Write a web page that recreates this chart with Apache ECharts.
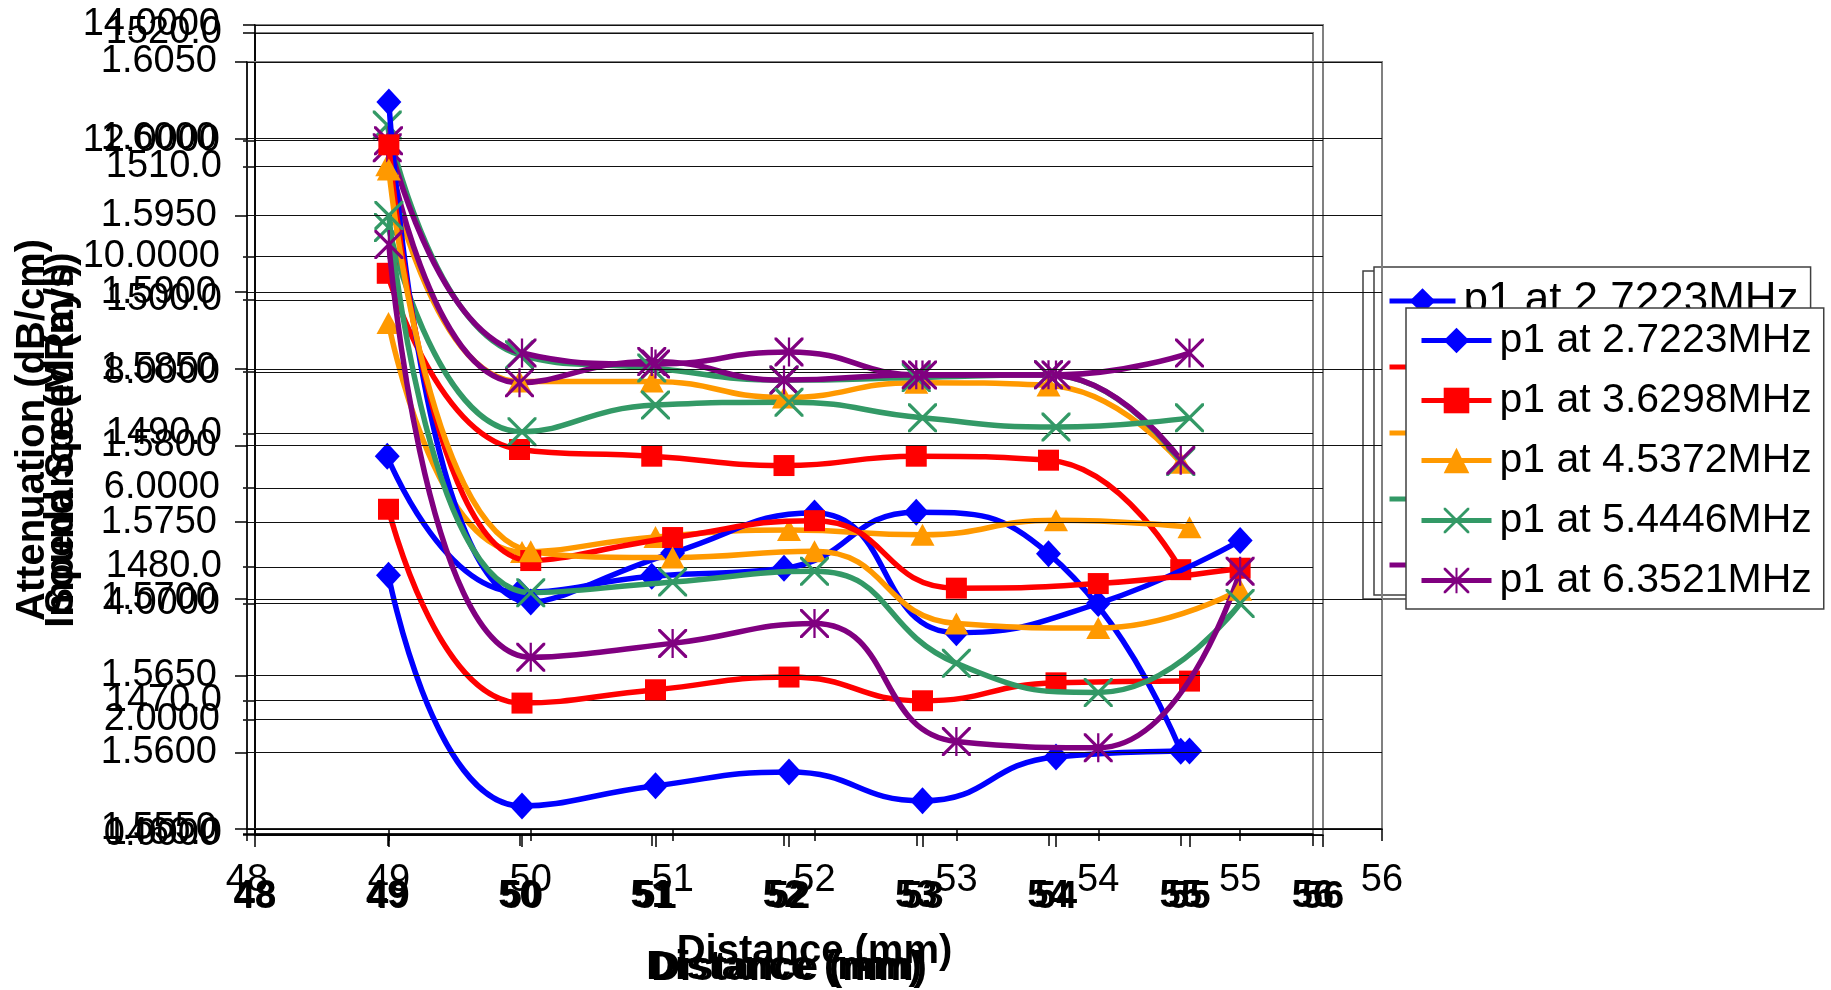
<!DOCTYPE html>
<html><head><meta charset="utf-8">
<script src="https://cdn.jsdelivr.net/npm/echarts@6/dist/echarts.min.js"></script>
<style>html,body{margin:0;padding:0;background:#fff}#c{width:1831px;height:990px}</style>
</head><body><div id="c"></div>
<script>
// ---------------- data ----------------
const distances = [49, 50, 51, 52, 53, 54, 55];
const seriesNames = ['p1 at 2.7223MHz', 'p1 at 3.6298MHz', 'p1 at 4.5372MHz', 'p1 at 5.4446MHz', 'p1 at 6.3521MHz'];
// Attenuation (dB/cm)
const att_2_7223 = [4.49, 0.50, 0.85, 1.09, 0.59, 1.35, 1.45];
const att_3_6298 = [5.63, 2.28, 2.51, 2.73, 2.32, 2.63, 2.66];
const att_4_5372 = [8.85, 4.89, 5.15, 5.27, 5.19, 5.44, 5.32];
const att_5_4446 = [10.5, 6.97, 7.43, 7.48, 7.21, 7.05, 7.21];
const att_6_3521 = [12.0, 8.33, 8.14, 8.35, 7.95, 7.95, 8.33];
// Sound speed (m/s)
const spd_2_7223 = [1488.3, 1478.1, 1479.3, 1479.9, 1484.1, 1481.0, 1466.2];
const spd_3_6298 = [1502.0, 1488.8, 1488.3, 1487.6, 1488.3, 1488.0, 1479.8];
const spd_4_5372 = [1510.1, 1493.9, 1493.9, 1492.7, 1493.8, 1493.6, 1487.8];
const spd_5_4446 = [1513.1, 1495.9, 1494.9, 1494.0, 1494.2, 1494.4, 1487.9];
const spd_6_3521 = [1511.4, 1493.8, 1495.4, 1494.0, 1494.4, 1494.4, 1488.0];
// Impedance (MRayl)
const imp_2_7223 = [1.6024, 1.5698, 1.5730, 1.5756, 1.5678, 1.5697, 1.5738];
const imp_3_6298 = [1.5996, 1.5725, 1.5740, 1.5751, 1.5707, 1.5710, 1.5720];
const imp_4_5372 = [1.5980, 1.5731, 1.5727, 1.5731, 1.5684, 1.5681, 1.5706];
const imp_5_4446 = [1.5950, 1.5704, 1.5711, 1.5718, 1.5658, 1.5639, 1.5697];
const imp_6_3521 = [1.5931, 1.5662, 1.5671, 1.5684, 1.5607, 1.5603, 1.5718];
// axis ticks
const xTicks = {min: 48, max: 56, interval: 1};
const attTicks = {min: 0, max: 14, interval: 2};
const spdTicks = {min: 1460, max: 1520, interval: 10};
const impTicks = {min: 1.555, max: 1.605, interval: 0.005};

// ---------------- styles ----------------
const FONT = 'Liberation Sans, Arial, sans-serif';
const colors = ['#0000FF', '#FF0000', '#FF9900', '#339966', '#800080'];
const xPath = 'path://M0,0 L2.2,0 L14,11.8 L25.8,0 L28,0 L28,2.2 L16.2,14 L28,25.8 L28,28 L25.8,28 L14,16.2 L2.2,28 L0,28 L0,25.8 L11.8,14 L0,2.2 Z';
const starPath = 'path://M0,0 L2.2,0 L14,11.8 L25.8,0 L28,0 L28,2.2 L16.2,14 L28,25.8 L28,28 L25.8,28 L14,16.2 L2.2,28 L0,28 L0,25.8 L11.8,14 L0,2.2 Z M12.9,0 L15.1,0 L15.1,28 L12.9,28 Z';
const symbols = ['diamond', 'rect', 'triangle', xPath, starPath];
const symbolSizes = [[25, 27], [21, 21], [24, 22], [29, 29], [29, 29]];

const charts = [
  // B: sound speed (drawn first)
  {sets: [spd_2_7223, spd_3_6298, spd_4_5372, spd_5_4446, spd_6_3521], ticks: spdTicks, dec: 1,
   grid: {left: 255, top: 33, width: 1058, height: 801}, name: 'Sound Speed (m/s)', nameGap: 173,
   yMargin: 33, xBold: 'bold', xMargin: 44, xNameGap: 114, z: 1},
  // A: attenuation
  {sets: [att_2_7223, att_3_6298, att_4_5372, att_5_4446, att_6_3521], ticks: attTicks, dec: 4,
   grid: {left: 255, top: 25, width: 1068, height: 810}, name: 'Attenuation (dB/cm)', nameGap: 202,
   yMargin: 35, xBold: 'bold', xMargin: 44, xNameGap: 114, z: 1},
  // C: impedance (drawn last)
  {sets: [imp_2_7223, imp_3_6298, imp_4_5372, imp_5_4446, imp_6_3521], ticks: impTicks, dec: 4,
   grid: {left: 247, top: 62, width: 1135, height: 767}, name: 'Impedance (MRayl)', nameGap: 165,
   yMargin: 30, xBold: 'normal', xMargin: 33, xNameGap: 103, z: 5}
];

const grids = [], xAxes = [], yAxes = [], series = [];
charts.forEach((c, i) => {
  grids.push(Object.assign({show: true, borderColor: '#808080', borderWidth: 2,
    backgroundColor: 'transparent', containLabel: false, outerBoundsMode: 'none', z: c.z}, c.grid));
  xAxes.push({type: 'value', gridIndex: i, min: xTicks.min, max: xTicks.max, interval: xTicks.interval, z: c.z,
    axisLine: {show: true, onZero: false, lineStyle: {color: '#000', width: 1.5}},
    axisTick: {show: true, length: 12, lineStyle: {color: '#000', width: 1.5}},
    splitLine: {show: false},
    axisLabel: {fontSize: 38, fontFamily: FONT, color: '#000', fontWeight: c.xBold, margin: c.xMargin},
    name: 'Distance (mm)', nameLocation: 'middle', nameGap: c.xNameGap,
    nameTextStyle: {fontSize: 40, fontFamily: FONT, fontWeight: 'bold', color: '#000'}});
  yAxes.push({type: 'value', gridIndex: i, min: c.ticks.min, max: c.ticks.max, interval: c.ticks.interval, z: c.z,
    axisLine: {show: true, lineStyle: {color: '#000', width: 1.5}},
    axisTick: {show: true, length: 12, lineStyle: {color: '#000', width: 1.5}},
    splitLine: {show: true, lineStyle: {color: '#111', width: 1.2}},
    axisLabel: {fontSize: 38, fontFamily: FONT, color: '#000', margin: c.yMargin,
      formatter: v => Number(v).toFixed(c.dec)},
    name: c.name, nameLocation: 'middle', nameGap: c.nameGap, nameRotate: 90,
    nameTextStyle: {fontSize: 40, fontFamily: FONT, fontWeight: 'bold', color: '#000'}});
  c.sets.forEach((arr, k) => {
    series.push({type: 'line', name: seriesNames[k], xAxisIndex: i, yAxisIndex: i, z: c.z + 1,
      data: distances.map((d, j) => [d, arr[j]]), smooth: 0.5,
      symbol: symbols[k], symbolSize: symbolSizes[k], showAllSymbol: true,
      lineStyle: {color: colors[k], width: 5.5}, itemStyle: {color: colors[k]}});
  });
});

function legendAt(left, top, fs, gap, iw, z) {
  return {show: true, orient: 'vertical', left: left, top: top, z: z, selectedMode: false,
    data: seriesNames, itemWidth: iw, itemHeight: 32, itemGap: gap,
    padding: [12, 12, 8, 13], backgroundColor: '#fff', borderColor: '#404040', borderWidth: 1.5,
    lineStyle: {width: 5},
    textStyle: {fontSize: fs, fontFamily: FONT, color: '#000', padding: [0, 0, 0, 3]}};
}

const option = {
  animation: false,
  backgroundColor: '#fff',
  grid: grids, xAxis: xAxes, yAxis: yAxes, series: series,
  legend: [legendAt(1363, 271, 44, 22, 66, 3), legendAt(1374, 267, 44, 22, 66, 4), legendAt(1406, 308, 41, 19, 70, 10)]
};
const chart = echarts.init(document.getElementById('c'), null, {renderer: 'canvas'});
chart.setOption(option);
</script>
</body></html>
